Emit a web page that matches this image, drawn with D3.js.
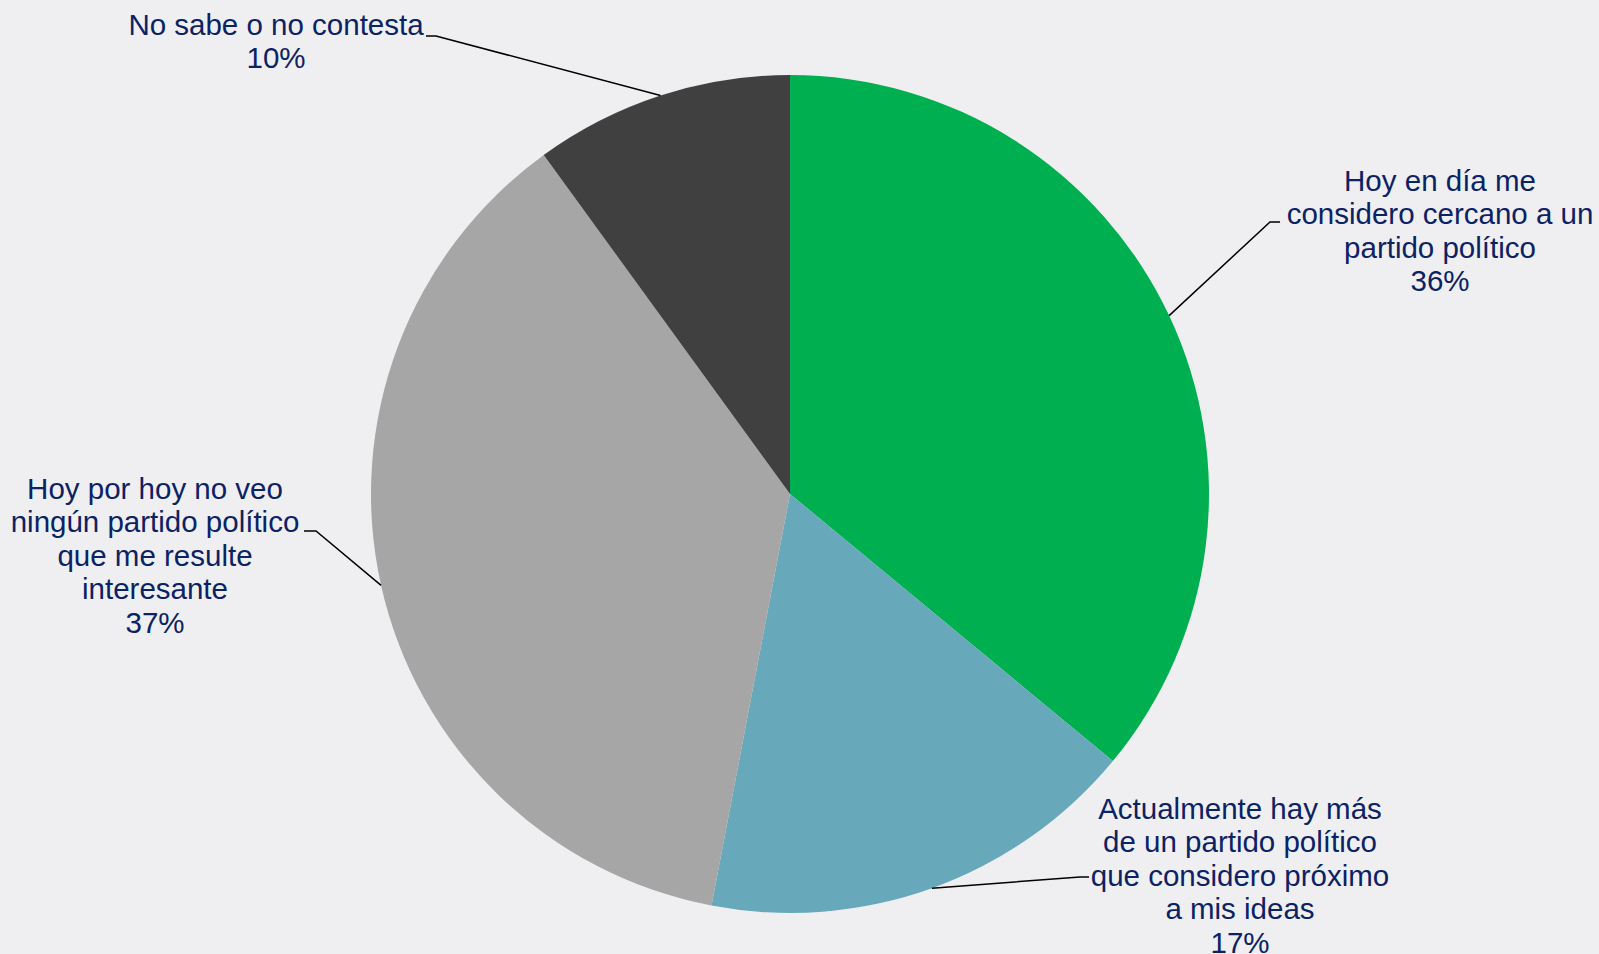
<!DOCTYPE html>
<html>
<head>
<meta charset="utf-8">
<script src="https://cdn.jsdelivr.net/npm/d3@7"></script>
<style>
  html, body { margin: 0; padding: 0; background: #efeff1; }
  svg { display: block; }
  .lbl { font-family: "Liberation Sans", Arial, sans-serif; font-size: 29.5px; fill: #0b2265; }
</style>
</head>
<body>
<svg id="chart"></svg>
<script>
// data
const categories = [
  'Hoy en día me\nconsidero cercano a un\npartido político',
  'Actualmente hay más\nde un partido político\nque considero próximo\na mis ideas',
  'Hoy por hoy no veo\nningún partido político\nque me resulte\ninteresante',
  'No sabe o no contesta'
];
const values = [36, 17, 37, 10];
const colors = ['#00b050', '#67a8bb', '#a6a6a6', '#404040'];

// layout of the labels (placed by hand, like the original)
const labelAt = [
  {x: 1440, y: 180, elbow: [1270, 222], end: [1280, 222]},
  {x: 1240, y: 808, elbow: [1080, 877], end: [1089, 877]},
  {x: 155, y: 488, elbow: [316, 531], end: [304, 531]},
  {x: 276, y: 24, elbow: [436, 36], end: [426, 36]}
];

const W = 1599, H = 954;
const svg = d3.select('#chart').attr('width', W).attr('height', H);

svg.append('rect').attr('width', W).attr('height', H).attr('fill', '#efeff1');

const cx = 790, cy = 494, r = 419;
const lineH = 33.5;

const data = categories.map((c, i) => ({name: c, value: values[i], color: colors[i]}));

const pie = d3.pie().sort(null).value(d => d.value);
const arc = d3.arc().innerRadius(0).outerRadius(r);
const edge = d3.arc().innerRadius(r).outerRadius(r);

const g = svg.append('g').attr('transform', 'translate(' + cx + ',' + cy + ')');
const arcs = pie(data);

g.selectAll('.slice')
  .data(arcs)
  .enter().append('path')
  .attr('class', 'slice')
  .attr('d', arc)
  .attr('fill', d => d.data.color);

// leader lines
svg.selectAll('.leader')
  .data(arcs)
  .enter().append('polyline')
  .attr('class', 'leader')
  .attr('fill', 'none')
  .attr('stroke', '#000')
  .attr('stroke-width', 1.5)
  .attr('points', (d, i) => {
    const p = edge.centroid(d);
    const L = labelAt[i];
    return [[p[0] + cx, p[1] + cy], L.elbow, L.end].map(q => q.join(',')).join(' ');
  });

// labels
const labels = svg.selectAll('.lbl')
  .data(arcs)
  .enter().append('text')
  .attr('class', 'lbl')
  .attr('text-anchor', 'middle');

labels.each(function(d, i) {
  const L = labelAt[i];
  const lines = d.data.name.split('\n').concat([d.data.value + '%']);
  d3.select(this).selectAll('tspan')
    .data(lines)
    .enter().append('tspan')
    .attr('x', L.x)
    .attr('y', (t, k) => L.y + k * lineH + 10.5)
    .text(t => t);
});
</script>
</body>
</html>
